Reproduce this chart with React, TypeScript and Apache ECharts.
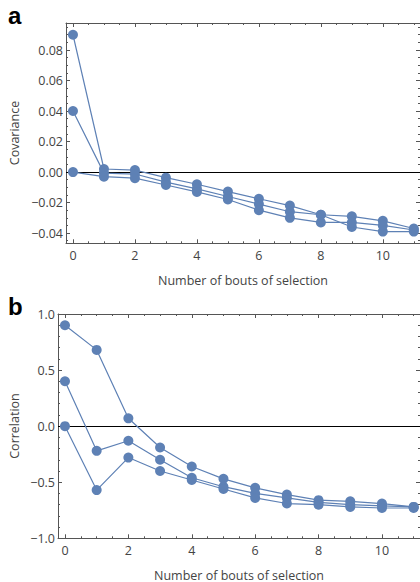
import React, { useEffect, useRef } from "react";
import * as echarts from "echarts";

// ---- data ----
const bouts = [0, 1, 2, 3, 4, 5, 6, 7, 8, 9, 10, 11];

const covHigh = [0.09, 0.002, 0.0013, -0.0037, -0.008, -0.0128, -0.0175, -0.022, -0.028, -0.029, -0.032, -0.037];
const covMid = [0.04, -0.0007, -0.0013, -0.0066, -0.011, -0.016, -0.021, -0.026, -0.028, -0.036, -0.039, -0.039];
const covLow = [0.0, -0.003, -0.004, -0.0085, -0.013, -0.018, -0.025, -0.03, -0.033, -0.033, -0.035, -0.038];

const corHigh = [0.9, 0.68, 0.07, -0.19, -0.36, -0.47, -0.55, -0.61, -0.66, -0.67, -0.69, -0.72];
const corMid = [0.4, -0.22, -0.13, -0.3, -0.46, -0.54, -0.6, -0.64, -0.68, -0.7, -0.71, -0.72];
const corLow = [0.0, -0.57, -0.28, -0.4, -0.48, -0.56, -0.64, -0.69, -0.7, -0.72, -0.73, -0.73];

const xMajorTicks = [0, 2, 4, 6, 8, 10];
const xMinorTicks = [0.5, 1, 1.5, 2.5, 3, 3.5, 4.5, 5, 5.5, 6.5, 7, 7.5, 8.5, 9, 9.5, 10.5, 11];
const covMajorTicks = [-0.04, -0.02, 0, 0.02, 0.04, 0.06, 0.08];
const covMinorTicks = [-0.045, -0.035, -0.03, -0.025, -0.015, -0.01, -0.005, 0.005, 0.01, 0.015, 0.025, 0.03, 0.035, 0.045, 0.05, 0.055, 0.065, 0.07, 0.075, 0.085, 0.09, 0.095];
const corMajorTicks = [-1, -0.5, 0, 0.5, 1];
const corMinorTicks = [-0.9, -0.8, -0.7, -0.6, -0.4, -0.3, -0.2, -0.1, 0.1, 0.2, 0.3, 0.4, 0.6, 0.7, 0.8, 0.9];

const xTitle = "Number of bouts of selection";
const covTitle = "Covariance";
const corTitle = "Correlation";

// ---- style ----
const BLUE = "#5e81b5";
const FRAME = "#555555";
const TEXT = "#444444";
const FONT = "Open Sans";
const FS = 12.5;

const fmt = (digits: number) => (v: number) => {
  const s = Math.abs(v).toFixed(digits);
  return v < -1e-9 ? "\u2212" + s : s;
};

function xAxes(gridIndex: number, min: number, max: number) {
  const base = {
    type: "value",
    gridIndex,
    min,
    max,
    splitLine: { show: false },
  };
  return [
    {
      ...base,
      position: "bottom",
      axisLine: { show: true, onZero: false, lineStyle: { color: FRAME, width: 1 } },
      axisTick: { show: true, inside: true, length: 4, customValues: xMajorTicks, lineStyle: { color: FRAME } },
      axisLabel: { show: true, customValues: xMajorTicks, formatter: fmt(0), color: TEXT, fontSize: FS, fontFamily: FONT, margin: 6 },
    },
    {
      ...base,
      position: "bottom",
      axisLine: { show: false, onZero: false },
      axisTick: { show: true, inside: true, length: 2, customValues: xMinorTicks, lineStyle: { color: FRAME } },
      axisLabel: { show: false },
    },
    {
      ...base,
      position: "top",
      axisLine: { show: true, onZero: false, lineStyle: { color: FRAME, width: 1 } },
      axisTick: { show: true, inside: true, length: 4, customValues: xMajorTicks, lineStyle: { color: FRAME } },
      axisLabel: { show: false },
    },
    {
      ...base,
      position: "top",
      axisLine: { show: false, onZero: false },
      axisTick: { show: true, inside: true, length: 2, customValues: xMinorTicks, lineStyle: { color: FRAME } },
      axisLabel: { show: false },
    },
  ];
}

function yAxes(gridIndex: number, min: number, max: number, major: number[], minor: number[], digits: number) {
  const base = {
    type: "value",
    gridIndex,
    min,
    max,
    splitLine: { show: false },
  };
  return [
    {
      ...base,
      position: "left",
      axisLine: { show: true, onZero: false, lineStyle: { color: FRAME, width: 1 } },
      axisTick: { show: true, inside: true, length: 4, customValues: major, lineStyle: { color: FRAME } },
      axisLabel: { show: true, customValues: major, formatter: fmt(digits), color: TEXT, fontSize: FS, fontFamily: FONT, margin: 3 },
    },
    {
      ...base,
      position: "left",
      axisLine: { show: false, onZero: false },
      axisTick: { show: true, inside: true, length: 2, customValues: minor, lineStyle: { color: FRAME } },
      axisLabel: { show: false },
    },
    {
      ...base,
      position: "right",
      axisLine: { show: true, onZero: false, lineStyle: { color: FRAME, width: 1 } },
      axisTick: { show: true, inside: true, length: 4, customValues: major, lineStyle: { color: FRAME } },
      axisLabel: { show: false },
    },
    {
      ...base,
      position: "right",
      axisLine: { show: false, onZero: false },
      axisTick: { show: true, inside: true, length: 2, customValues: minor, lineStyle: { color: FRAME } },
      axisLabel: { show: false },
    },
  ];
}

function lineSeries(name: string, values: number[], axisIndex: number, withZero: boolean) {
  const s: any = {
    name,
    type: "line",
    xAxisIndex: axisIndex,
    yAxisIndex: axisIndex,
    data: bouts.map((b, i) => [b, values[i]]),
    symbol: "circle",
    symbolSize: 10,
    showSymbol: true,
    lineStyle: { color: BLUE, width: 1.2 },
    itemStyle: { color: BLUE },
    z: 3,
  };
  if (withZero) {
    s.markLine = {
      silent: true,
      symbol: ["none", "none"],
      label: { show: false },
      lineStyle: { color: "#000000", width: 1, type: "solid" },
      data: [{ yAxis: 0 }],
      z: 1,
    };
  }
  return s;
}

export default function App() {
  const ref = useRef<HTMLDivElement>(null);

  useEffect(() => {
    if (!ref.current) return;
    const chart = echarts.init(ref.current, undefined, { renderer: "svg" });

    const option: any = {
      animation: false,
      backgroundColor: "#ffffff",
      grid: [
        { left: 66, top: 23, width: 354.2, height: 220.3 },
        { left: 58, top: 314, width: 362.8, height: 224.3 },
      ],
      xAxis: [...xAxes(0, -0.225, 11.2), ...xAxes(1, -0.22, 11.2)],
      yAxis: [
        ...yAxes(0, -0.0467, 0.0977, covMajorTicks, covMinorTicks, 2),
        ...yAxes(1, -1, 1, corMajorTicks, corMinorTicks, 1),
      ],
      series: [
        lineSeries("cov-high", covHigh, 0, true),
        lineSeries("cov-mid", covMid, 0, false),
        lineSeries("cov-low", covLow, 0, false),
        lineSeries("cor-high", corHigh, 4, true),
        lineSeries("cor-mid", corMid, 4, false),
        lineSeries("cor-low", corLow, 4, false),
      ],
      graphic: [
        {
          type: "text",
          left: 8,
          top: 3,
          style: { text: "a", fontSize: 24, fontWeight: "bold", fontFamily: "Liberation Sans", fill: "#000" },
        },
        {
          type: "text",
          left: 8,
          top: 294,
          style: { text: "b", fontSize: 24, fontWeight: "bold", fontFamily: "Liberation Sans", fill: "#000" },
        },
        {
          type: "text",
          x: 243,
          y: 280,
          style: { text: xTitle, fontSize: FS, fontFamily: FONT, fill: TEXT, textAlign: "center", textVerticalAlign: "middle" },
        },
        {
          type: "text",
          x: 239,
          y: 575,
          style: { text: xTitle, fontSize: FS, fontFamily: FONT, fill: TEXT, textAlign: "center", textVerticalAlign: "middle" },
        },
        {
          type: "text",
          x: 14,
          y: 133,
          rotation: Math.PI / 2,
          style: { text: covTitle, fontSize: FS, fontFamily: FONT, fill: TEXT, textAlign: "center", textVerticalAlign: "middle" },
        },
        {
          type: "text",
          x: 14,
          y: 426,
          rotation: Math.PI / 2,
          style: { text: corTitle, fontSize: FS, fontFamily: FONT, fill: TEXT, textAlign: "center", textVerticalAlign: "middle" },
        },
      ],
    };

    chart.setOption(option);
    return () => chart.dispose();
  }, []);

  return (
    <div
      ref={ref}
      style={{ position: "fixed", left: 0, top: 0, width: 420, height: 582, background: "#fff" }}
    />
  );
}
